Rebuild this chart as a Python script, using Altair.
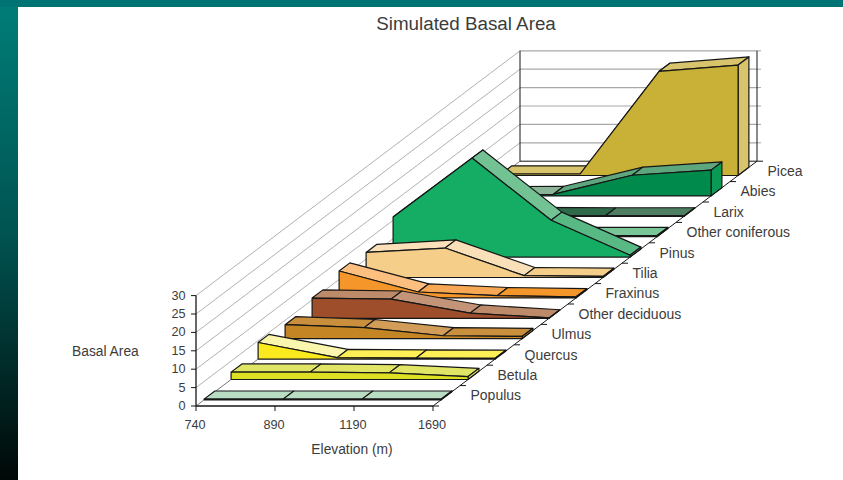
import altair as alt
import pandas as pd

# Basal area by elevation for each species, front row to back row
ELEVATIONS = ["740", "890", "1190", "1690"]
SPECIES = ["Populus", "Betula", "Quercus", "Ulmus", "Other deciduous", "Fraxinus",
           "Tilia", "Pinus", "Other coniferous", "Larix", "Abies", "Picea"]
POPULUS = [0.2, 0.2, 0.2, 0.2]
BETULA = [2.0, 2.0, 1.8, 0.8]
QUERCUS = [4.5, 0.4, 0.3, 0.2]
ULMUS = [3.8, 3.0, 0.8, 0.6]
OTHER_DECIDUOUS = [5.5, 5.2, 1.4, 0.1]
FRAXINUS = [7.3, 1.6, 0.6, 0.3]
TILIA = [6.8, 8.0, 0.5, 0.3]
PINUS = [10.9, 26.9, 10.0, 0.5]
OTHER_CONIFEROUS = [0.4, 0.4, 0.3, 0.3]
LARIX = [0.2, 0.2, 0.1, 0.1]
ABIES = [0.3, 0.4, 5.6, 7.0]
PICEA = [0.4, 0.4, 28.3, 30.0]
SERIES = [POPULUS, BETULA, QUERCUS, ULMUS, OTHER_DECIDUOUS, FRAXINUS,
          TILIA, PINUS, OTHER_CONIFEROUS, LARIX, ABIES, PICEA]
VALUE_TICKS = [0, 5, 10, 15, 20, 25, 30]

FRONT_FILLS = ["#b9ddc3", "#dde022", "#fbea1e", "#c48624", "#9f4e2b", "#f5962a",
               "#f5cf8a", "#15ad64", "#79c698", "#2f6b4a", "#008a4b", "#c9b037"]
TOP_FILLS = [
    ["#b9ddc3", "#b9ddc3", "#b9ddc3"],
    ["#e0e566", "#e0e566", "#e0e566"],
    ["#fbf6ae", "#fdef55", "#fdef55"],
    ["#c98f3c", "#d19d58", "#c98f3c"],
    ["#bd8a6a", "#c49478", "#bd8a6a"],
    ["#fcbf80", "#f8a855", "#f5962a"],
    ["#f9e0b8", "#f9e0b8", "#f5cf8a"],
    ["#72c294", "#72c294", "#58b985"],
    ["#79c698", "#79c698", "#79c698"],
    ["#2f6b4a", "#2f6b4a", "#4e7f62"],
    ["#8bb496", "#5ea77e", "#5ea77e"],
    ["#d8c46c", "#d8c46c", "#d8c46c"],
]
CAP_FILLS = ["#b9ddc3", "#e0e566", "#fdef55", "#c98f3c", "#bd8a6a", "#f5962a",
             "#f5cf8a", "#58b985", "#79c698", "#4e7f62", "#0a9a55", "#d8c46c"]

INK = "#161616"
TEXT = "#3c3c3c"
GRID = "#a8a8a8"

# Oblique projection of (elevation step, value, depth) onto the page
ORIGIN_X, ORIGIN_Y = 196.0, 406.0
STEP_X = 79.0
UNIT_Y = 3.68
DEPTH_X, DEPTH_Y = 27.0, 20.4
RIBBON_FRONT, RIBBON_BACK = 0.3, 0.7


def project(step, value, depth):
    return (ORIGIN_X + STEP_X * step + DEPTH_X * depth,
            ORIGIN_Y - UNIT_Y * value - DEPTH_Y * depth)


sx = alt.Scale(domain=[0, 843], range=[0, 843], nice=False, zero=False)
sy = alt.Scale(domain=[0, 480], range=[0, 480], nice=False, zero=False)
X = alt.X("px:Q", scale=sx, axis=None)
Y = alt.Y("py:Q", scale=sy, axis=None)
layers = []


def polygon(points, fill, stroke=INK, width=1.2):
    closed = list(points) + [points[0]]
    df = pd.DataFrame({"px": [p[0] for p in closed], "py": [p[1] for p in closed],
                       "i": range(len(closed))})
    layers.append(alt.Chart(df).mark_line(fill=fill, stroke=stroke, strokeWidth=width,
                                          strokeJoin="round")
                  .encode(x=X, y=Y, order="i:Q"))


def segment(a, b, color=INK, width=1.0):
    df = pd.DataFrame({"px": [a[0], b[0]], "py": [a[1], b[1]], "i": [0, 1]})
    layers.append(alt.Chart(df).mark_line(stroke=color, strokeWidth=width)
                  .encode(x=X, y=Y, order="i:Q"))


def label(text, x, y, size=14, align="left"):
    df = pd.DataFrame({"px": [x], "py": [y], "t": [text]})
    layers.append(alt.Chart(df).mark_text(font="Liberation Sans", fontSize=size, color=TEXT,
                                          align=align, baseline="middle")
                  .encode(x=X, y=Y, text="t:N"))


def band(x0, x1, y0, y1, fill):
    df = pd.DataFrame({"px": [x0], "px2": [x1], "py": [y0], "py2": [y1]})
    layers.append(alt.Chart(df).mark_rect(fill=fill, stroke=None)
                  .encode(x=X, x2="px2:Q", y=Y, y2="py2:Q"))


# Slide backdrop
band(0, 843, 0, 480, alt.LinearGradient(
    gradient="linear", x1=0, x2=0, y1=0, y2=1,
    stops=[alt.GradientStop(offset=0, color="#007e78"),
           alt.GradientStop(offset=0.5, color="#005250"),
           alt.GradientStop(offset=1, color="#000806")]))
band(0, 843, 0, 7, "#007474")
band(18, 843, 7, 480, "#ffffff")

# Walls: value gridlines run along the left side and across the back
for v in VALUE_TICKS[1:]:
    segment(project(0, v, 0), project(0, v, 12), GRID, 0.9)
    segment(project(0, v, 12), project(3, v, 12), GRID, 1.2)
    end = project(3, v, 12)
    segment(end, (end[0] + 4, end[1]), GRID, 1.0)
segment(project(0, 0, 12), project(0, 30, 12), INK, 1.0)
segment(project(3, 0, 12), project(3, 30, 12), INK, 1.0)
segment(project(0, 0, 12), project(3, 0, 12), INK, 1.0)
segment(project(0, 0, 0), project(0, 0, 12), "#555555", 0.8)

# Ribbons, painted from the back row forward
for k in reversed(range(len(SERIES))):
    values = SERIES[k]
    d0, d1 = k + RIBBON_FRONT, k + RIBBON_BACK
    for s in range(3):
        polygon([project(s, values[s], d0), project(s + 1, values[s + 1], d0),
                 project(s + 1, values[s + 1], d1), project(s, values[s], d1)],
                TOP_FILLS[k][s])
    polygon([project(3, values[3], d0), project(3, values[3], d1),
             project(3, 0, d1), project(3, 0, d0)], CAP_FILLS[k])
    polygon([project(0, 0, d0)] + [project(s, values[s], d0) for s in range(4)]
            + [project(3, 0, d0)], FRONT_FILLS[k])

# Front axes and the floor edge with its row ticks
segment(project(0, 0, 0), project(3, 0, 0), INK, 1.3)
segment(project(0, 0, 0), project(0, 30, 0), INK, 1.3)
segment(project(3, 0, 0), project(3, 0, 12), INK, 1.0)
for v in VALUE_TICKS:
    p = project(0, v, 0)
    segment((p[0] - 5, p[1]), p, INK, 1.0)
    label(str(v), p[0] - 10.5, p[1], size=12.7, align="right")
for s, name in enumerate(ELEVATIONS):
    p = project(s, 0, 0)
    segment(p, (p[0], p[1] + 5), INK, 1.0)
    label(name, p[0] - 1, p[1] + 19, size=12.7, align="center")
for k in range(len(SERIES) + 1):
    p = project(3, 0, k)
    segment(p, (p[0] + 6, p[1]), INK, 1.0)
for k, name in enumerate(SPECIES):
    p = project(3, 0, k + 0.5)
    label(name, p[0] + 24, p[1] + 0.5)

# Titles
label("Simulated Basal Area", 466, 24, size=18.8, align="center")
label("Basal Area", 72, 352, size=13.8)
label("Elevation (m)", 352, 450, size=13.8, align="center")

chart = alt.layer(*layers).properties(
    width=843, height=480, padding=0, autosize=alt.AutoSizeParams(type="none")
).configure_view(stroke=None)

chart.save("out.html", embed_options={"renderer": "svg", "actions": False})
